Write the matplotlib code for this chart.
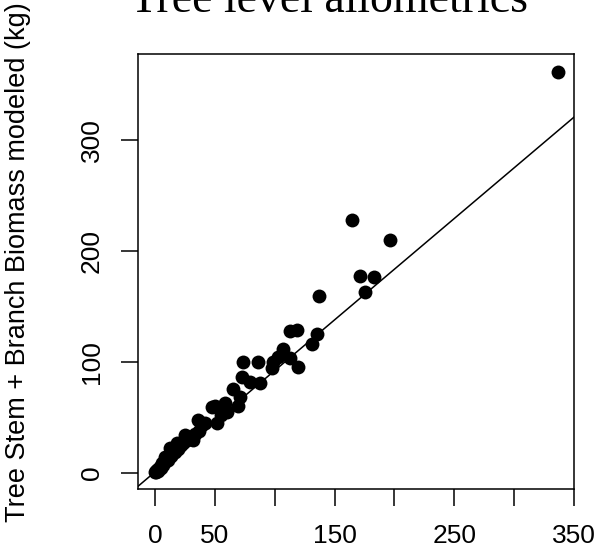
import numpy as np
import matplotlib.pyplot as plt

measured = [0.3, 0.8, 1.2, 1.6, 2.2, 2.8, 3.3, 4.0, 4.6, 5.4, 6.0, 6.8, 7.5, 8.4, 9.2,
            10.0, 11.0, 12.5, 13.5, 14.5, 16.0, 17.0, 18.0, 19.5, 21.0, 22.5, 24.0,
            25.0, 27.0, 29.0, 32.0, 33.0, 36.2, 37.0, 39.0, 42.0, 47.4, 50.1, 51.5,
            55.0, 58.5, 60.0, 65.4, 69.6, 71.0, 72.4, 73.8, 79.4, 85.8, 87.7, 97.5,
            98.3, 103.0, 106.7, 112.8, 112.8, 118.9, 119.7, 130.9, 135.6, 137.3,
            164.3, 171.3, 175.4, 183.0, 196.3, 336.4]
modeled = [0.5, 1.5, 0.8, 3.0, 2.0, 4.0, 3.2, 5.5, 4.5, 6.5, 8.7, 7.0, 9.5, 14.7, 10.5,
           13.0, 12.0, 22.2, 15.5, 17.0, 20.0, 18.5, 26.7, 22.0, 24.5, 26.0, 28.0,
           34.2, 30.0, 32.0, 29.7, 35.5, 47.7, 37.5, 43.2, 45.0, 59.7, 60.3, 44.7,
           52.0, 62.7, 55.2, 75.3, 60.3, 68.7, 86.1, 100.2, 82.2, 100.2, 81.3, 94.2,
           100.2, 104.1, 111.3, 128.1, 103.2, 128.7, 95.7, 115.8, 125.1, 159.6,
           228.3, 177.6, 163.2, 176.7, 209.7, 361.2]

# reference line (abline)
line_intercept = 1.0
line_slope = 0.913

x = np.array(measured)
y = np.array(modeled)

fig = plt.figure(figsize=(6, 5.55), dpi=100)
ax = fig.add_axes([0.2308, 0.1189, 0.7259, 0.7838])

ax.scatter(x, y, s=100, color="black", zorder=3, linewidths=0)
xx = np.array([-20, 360])
ax.plot(xx, line_intercept + line_slope * xx, color="black", lw=1.1)

ax.set_xlim(-13.8, 350)
ax.set_ylim(-14.4, 377.4)

ax.set_xticks(np.arange(0, 351, 50))
ax.set_xticklabels(["0", "50", "", "150", "", "250", "", "350"])
ax.set_yticks([0, 100, 200, 300])
ax.set_yticklabels(["0", "100", "200", "300"], rotation=90, va="center")

for sp in ax.spines.values():
    sp.set_linewidth(1.1)
ax.tick_params(length=12, width=1.1, labelsize=19, pad=13)
for lab in ax.get_xticklabels() + ax.get_yticklabels():
    lab.set_family("Liberation Sans")

fig.text(0.03, 0.528, "Tree Stem + Branch Biomass modeled (kg)", rotation=90,
         ha="center", va="center", fontsize=19.5, family="Liberation Sans")
fig.text(0.5475, 0.978, "Tree level allometrics", ha="center", va="baseline",
         fontsize=33, family="Liberation Serif")

fig.savefig("out.png", dpi=100)
